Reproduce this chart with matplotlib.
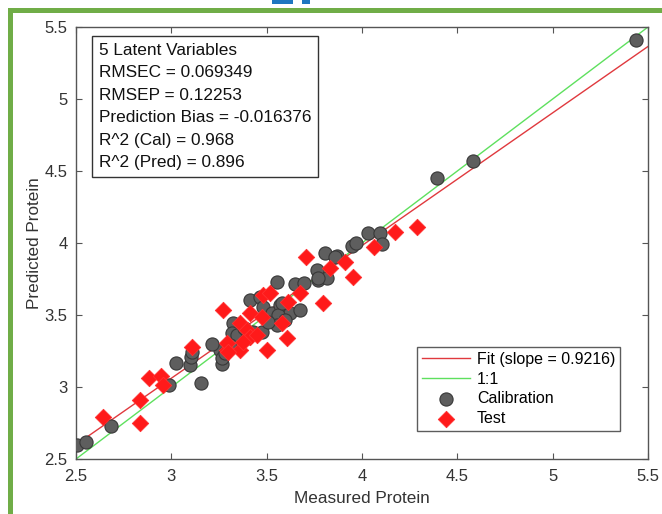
import matplotlib
matplotlib.use("Agg")
import matplotlib.pyplot as plt
from matplotlib.patches import Rectangle
import numpy as np

plt.rcParams['font.family'] = ['Liberation Sans', 'DejaVu Sans']

cal_x = [2.505, 2.552, 2.684, 2.988, 3.024, 3.098, 3.103, 3.108, 3.155, 3.266, 3.255, 3.213,
         3.266, 3.281, 3.323, 3.318, 3.344, 3.428, 3.475, 3.397, 3.412, 3.465, 3.481, 3.528,
         3.570, 3.622, 3.559, 3.554, 3.554, 3.648, 3.696, 3.769, 3.764, 3.816, 3.769, 3.806,
         3.869, 3.858, 3.947, 3.968, 4.031, 4.094, 4.105, 4.393, 4.582, 5.437, 3.580, 3.381,
         3.507, 3.596, 3.308, 3.675]
cal_y = [2.597, 2.618, 2.729, 3.014, 3.167, 3.153, 3.208, 3.243, 3.028, 3.160, 3.257, 3.299,
         3.201, 3.236, 3.444, 3.375, 3.361, 3.382, 3.382, 3.340, 3.604, 3.625, 3.556, 3.514,
         3.569, 3.514, 3.500, 3.431, 3.729, 3.715, 3.722, 3.743, 3.813, 3.757, 3.757, 3.931,
         3.910, 3.903, 3.979, 4.000, 4.069, 4.069, 3.993, 4.451, 4.569, 5.410, 3.583, 3.410,
         3.451, 3.465, 3.292, 3.535]

test_x = [2.642, 2.836, 2.836, 2.883, 2.946, 2.956, 3.108, 3.292, 3.360, 3.271, 3.412, 3.475,
          3.481, 3.517, 3.612, 3.675, 3.795, 3.580, 3.606, 3.502, 3.360, 3.397, 3.412, 3.449,
          3.292, 3.297, 3.376, 3.706, 3.911, 3.832, 3.953, 4.063, 4.173, 4.288]
test_y = [2.792, 2.910, 2.750, 3.063, 3.076, 3.014, 3.278, 3.257, 3.257, 3.535, 3.514, 3.486,
          3.639, 3.653, 3.590, 3.653, 3.583, 3.444, 3.340, 3.257, 3.444, 3.396, 3.347, 3.361,
          3.306, 3.243, 3.313, 3.903, 3.868, 3.826, 3.764, 3.972, 4.076, 4.111]

fit_slope = 0.9216
fit_intercept = 0.296
axis_range = [2.5, 5.5]
ticks = [2.5, 3, 3.5, 4, 4.5, 5, 5.5]
tick_labels = ['2.5', '3', '3.5', '4', '4.5', '5', '5.5']

stats_lines = ["5 Latent Variables", "RMSEC = 0.069349", "RMSEP = 0.12253",
               "Prediction Bias = -0.016376", "R^2 (Cal) = 0.968", "R^2 (Pred) = 0.896"]

fig = plt.figure(figsize=(6.62, 5.14), dpi=100)
ax = fig.add_axes([0.1148, 0.107, 0.8641, 0.8405])

xr = np.array(axis_range)
ax.plot(xr, fit_slope * xr + fit_intercept, color='#e0393e', lw=1.0, zorder=2,
        label='Fit (slope = 0.9216)')
ax.plot(xr, xr, color='#5ee05e', lw=1.0, zorder=2, label='1:1')
ax.scatter(cal_x, cal_y, s=90, marker='o', facecolor='#5e5e5e', edgecolor='#383838',
           linewidth=0.8, zorder=3, label='Calibration')
ax.scatter(test_x, test_y, s=70, marker='D', facecolor='#ff1a1a', edgecolor='#ff3030',
           linewidth=0.6, zorder=4, label='Test')

ax.set_xlim(axis_range)
ax.set_ylim(axis_range)
ax.set_xticks(ticks)
ax.set_xticklabels(tick_labels)
ax.set_yticks(ticks)
ax.set_yticklabels(tick_labels)
ax.tick_params(direction='in', top=True, right=True, length=4, color='#555555',
               labelsize=12, labelcolor='#333333')
ax.tick_params(axis='x', pad=7)
ax.tick_params(axis='y', pad=6)
for s in ax.spines.values():
    s.set_color('#555555')
    s.set_linewidth(1.0)
ax.set_xlabel('Measured Protein', fontsize=12.3, color='#333333', labelpad=5)
ax.set_ylabel('Predicted Protein', fontsize=12.3, color='#333333', labelpad=2)

ax.text(0.04, 0.963, "\n".join(stats_lines), transform=ax.transAxes, fontsize=12.4,
        va='top', ha='left', linespacing=1.62, color='#111111',
        bbox=dict(boxstyle='square,pad=0.4', facecolor='white', edgecolor='#333333', lw=1.0))

leg = ax.legend(loc='lower right', bbox_to_anchor=(0.951, 0.065), fontsize=11.5,
                frameon=True, fancybox=False, edgecolor='#333333', borderpad=0.3,
                labelspacing=0.3, handlelength=3.0, handletextpad=0.45, borderaxespad=0)
leg.get_frame().set_linewidth(1.0)

# green border frame and cropped blue marks
green = '#70ad47'
fig.patches.append(Rectangle((8/662, 0), 5/662, 1 - 8/514, transform=fig.transFigure,
                             facecolor=green, edgecolor='none'))
fig.patches.append(Rectangle((8/662, 1 - 13/514), 1, 5/514, transform=fig.transFigure,
                             facecolor=green, edgecolor='none'))
fig.patches.append(Rectangle((272/662, 1 - 4/514), 21/662, 4/514, transform=fig.transFigure,
                             facecolor='#1f77c0', edgecolor='none'))
fig.patches.append(Rectangle((302/662, 1 - 4/514), 8/662, 4/514, transform=fig.transFigure,
                             facecolor='#1f77c0', edgecolor='none'))

fig.savefig('out.png', dpi=100)
